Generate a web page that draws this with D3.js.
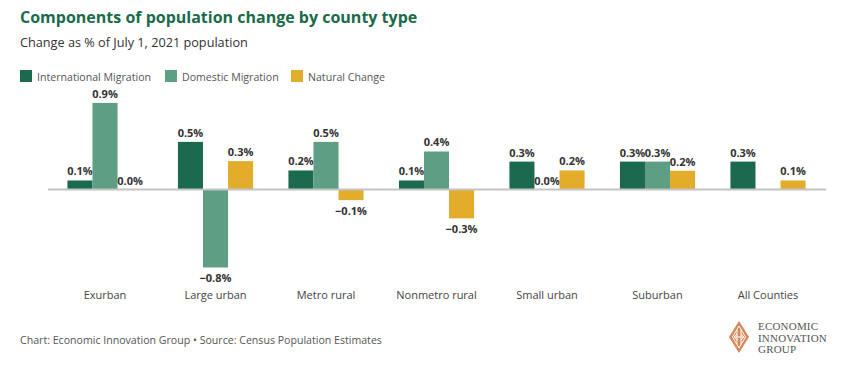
<!DOCTYPE html>
<html>
<head>
<meta charset="utf-8">
<script src="https://cdn.jsdelivr.net/npm/d3@7"></script>
<style>
  html, body { margin: 0; padding: 0; background: #fff; }
  svg { display: block; font-family: "Open Sans", sans-serif; }
</style>
</head>
<body>
<svg id="chart" width="850" height="366"></svg>
<script>
const categories = ["Exurban", "Large urban", "Metro rural", "Nonmetro rural", "Small urban", "Suburban", "All Counties"];
const seriesNames = ["International Migration", "Domestic Migration", "Natural Change"];
const international = [0.094, 0.495, 0.198, 0.094, 0.29, 0.29, 0.29];
const domestic = [0.9, -0.81, 0.495, 0.395, 0.0, 0.29, null];
const natural = [0.0, 0.295, -0.11, -0.30, 0.198, 0.195, 0.094];
const colors = ["#1b6a50", "#5e9e85", "#e2ad2a"];

const svg = d3.select("#chart");
const series = [international, domestic, natural];

// Title, subtitle
svg.append("text").attr("x", 20).attr("y", 23)
  .attr("font-size", 16).attr("font-weight", 700).attr("fill", "#1a6b4a")
  .text("Components of population change by county type");
svg.append("text").attr("x", 20).attr("y", 47)
  .attr("font-size", 12.7).attr("fill", "#333")
  .text("Change as % of July 1, 2021 population");

// Legend
const legendX = [20, 165, 291];
seriesNames.forEach((n, i) => {
  const g = svg.append("g").attr("transform", `translate(${legendX[i]},70)`);
  g.append("rect").attr("width", 12).attr("height", 12).attr("fill", colors[i]);
  g.append("text").attr("x", 17).attr("y", 10.5).attr("font-size", 10.6).attr("fill", "#555").text(n);
});

// Scales
const x0 = d3.scaleBand().domain(categories).range([49.75, 823.25]).paddingInner(0.32).paddingOuter(0.16);
const x1 = d3.scaleBand().domain(d3.range(3)).range([0, x0.bandwidth()]);
const y = d3.scaleLinear().domain([-0.8, 0.9]).range([266.5, 102.9]);

const fmt = d3.format(".1%");

const groups = svg.append("g").selectAll("g").data(categories).join("g")
  .attr("transform", d => `translate(${x0(d)},0)`);

groups.each(function(cat, ci) {
  const g = d3.select(this);
  series.forEach((s, si) => {
    const v = s[ci];
    if (v === null) return;
    const y0 = y(0), yv = y(v);
    if (v !== 0) {
      g.append("rect")
        .attr("x", x1(si)).attr("width", x1.bandwidth())
        .attr("y", Math.min(y0, yv)).attr("height", Math.abs(yv - y0))
        .attr("fill", colors[si]);
    }
    g.append("text")
      .attr("x", x1(si) + x1.bandwidth() / 2)
      .attr("y", v < 0 ? yv + 15 : yv - 5)
      .attr("text-anchor", "middle")
      .attr("font-size", 11).attr("font-weight", 700).attr("fill", "#333")
      .text(fmt(v / 100));
  });
});

// Baseline
svg.append("line").attr("x1", 48).attr("x2", 826).attr("y1", y(0)).attr("y2", y(0))
  .attr("stroke", "#c4c4c4").attr("stroke-width", 2);

// X axis labels
const xAxis = d3.axisBottom(x0).tickSize(0).tickPadding(0);
const ax = svg.append("g").attr("transform", "translate(0,291)").call(xAxis);
ax.select(".domain").remove();
ax.selectAll("text").attr("font-size", 11).attr("fill", "#444").attr("font-family", "Open Sans, sans-serif").attr("dy", "0.71em");

// Footer
svg.append("text").attr("x", 20).attr("y", 344).attr("font-size", 10.6).attr("fill", "#555")
  .text("Chart: Economic Innovation Group \u2022 Source: Census Population Estimates");

// Logo
const logo = svg.append("g").attr("transform", "translate(739,337)");
logo.append("path").attr("d", "M0,-16 L10,0 L0,16 L-10,0 Z").attr("fill", "#d5895b");
logo.append("path").attr("d", "M0,-11 L6.5,0 L0,11 L-6.5,0 Z").attr("fill", "none").attr("stroke", "#fff").attr("stroke-width", 1);
logo.append("path").attr("d", "M-2,-7 L-2,7 M2,-7 L2,7 M-5,0 L5,0 M-2,-3 L-5,0 L-2,3 M2,-3 L5,0 L2,3").attr("fill", "none").attr("stroke", "#fff").attr("stroke-width", 1);
const lt = svg.append("g").attr("font-family", "Liberation Serif, DejaVu Serif, serif").attr("font-size", 11).attr("fill", "#555").attr("letter-spacing", 0.2);
["ECONOMIC", "INNOVATION", "GROUP"].forEach((t, i) => {
  lt.append("text").attr("x", 758).attr("y", 330 + i * 11.5).text(t);
});
</script>
</body>
</html>
